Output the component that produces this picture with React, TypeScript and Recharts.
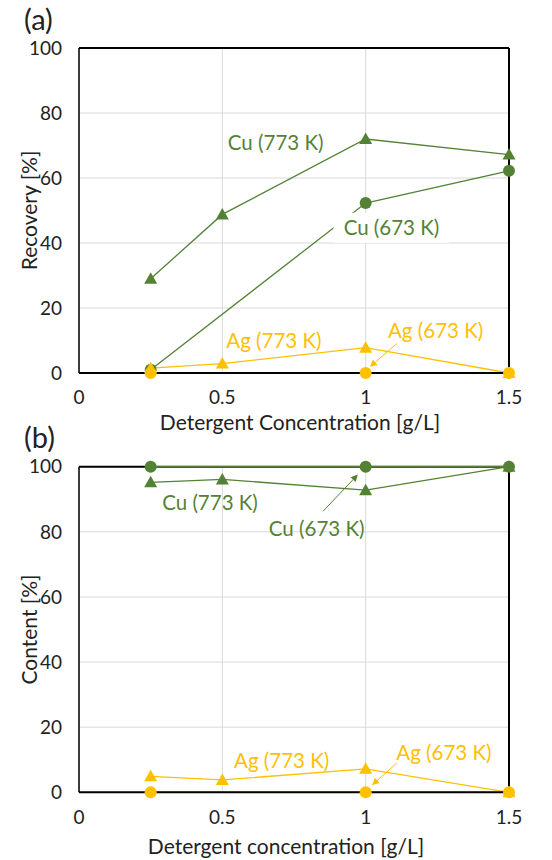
import React from "react";
import {
  LineChart,
  Line,
  XAxis,
  YAxis,
  CartesianGrid,
  ReferenceLine,
  ReferenceDot,
} from "recharts";

// ---------- data ----------
const concentrations = [0.25, 0.5, 1, 1.5];
const xTicks = [0, 0.5, 1, 1.5];
const yTicks = [0, 20, 40, 60, 80, 100];

const recoveryCu773 = [29, 48.8, 72, 67.2];
const recoveryCu673 = [1, null, 52.3, 62.2];
const recoveryAg773 = [1.5, 2.9, 7.8, 0];
const recoveryAg673 = [0, null, 0, 0];

const contentCu773 = [95.2, 96.1, 92.8, 100];
const contentCu673 = [100, null, 100, 100];
const contentAg773 = [4.9, 3.8, 7.2, 0];
const contentAg673 = [0, null, 0, 0];

const seriesNames = ["Cu (773 K)", "Cu (673 K)", "Ag (773 K)", "Ag (673 K)"];

const buildRows = (cu773: any[], cu673: any[], ag773: any[], ag673: any[]) =>
  concentrations.map((x, i) => ({
    x,
    cu773: cu773[i],
    cu673: cu673[i],
    ag773: ag773[i],
    ag673: ag673[i],
  }));

const recoveryData = buildRows(recoveryCu773, recoveryCu673, recoveryAg773, recoveryAg673);
const contentData = buildRows(contentCu773, contentCu673, contentAg773, contentAg673);

// ---------- styles ----------
const GREEN = "#548235";
const GOLD = "#FFC000";
const FONT = "Lato, 'Open Sans', sans-serif";
const TEXT = "#222";

const triangleDot = (color: string) => (props: any) => {
  const { cx, cy, index, value } = props;
  if (cx == null || cy == null || value == null || isNaN(cy))
    return <g key={`t-${index}`} />;
  return (
    <polygon
      key={`t-${index}`}
      points={`${cx},${cy - 6.5} ${cx + 6.5},${cy + 5} ${cx - 6.5},${cy + 5}`}
      fill={color}
    />
  );
};

const circleDot = (color: string) => (props: any) => {
  const { cx, cy, index, value } = props;
  if (cx == null || cy == null || value == null || isNaN(cy))
    return <g key={`c-${index}`} />;
  return <circle key={`c-${index}`} cx={cx} cy={cy} r={6} fill={color} />;
};

const annot = (text: string, color: string, bg = false) => (props: any) => {
  const vb = props.viewBox || {};
  const x = vb.x + (vb.width || 0) / 2;
  const y = vb.y + (vb.height || 0) / 2;
  return (
    <g>
      {bg && <rect x={x - 58} y={y - 14} width={116} height={30} fill="#fff" />}
      <text
        x={x}
        y={y}
        textAnchor="middle"
        dominantBaseline="central"
        fill={color}
        fontSize={20.5}
        fontFamily={FONT}
      >
        {text}
      </text>
    </g>
  );
};

const arrowShape = (color: string) => (props: any) => {
  const { x1, y1, x2, y2 } = props;
  if ([x1, y1, x2, y2].some((v) => v == null || isNaN(v))) return <g />;
  const ang = Math.atan2(y2 - y1, x2 - x1);
  const L = 7;
  const W = 3.5;
  const bx = x2 - L * Math.cos(ang);
  const by = y2 - L * Math.sin(ang);
  const px = -Math.sin(ang) * W;
  const py = Math.cos(ang) * W;
  return (
    <g>
      <line x1={x1} y1={y1} x2={bx} y2={by} stroke={color} strokeWidth={1} />
      <polygon
        points={`${x2},${y2} ${bx + px},${by + py} ${bx - px},${by - py}`}
        fill={color}
      />
    </g>
  );
};

const yTitle = (text: string) => (props: any) => {
  const vb = props.viewBox || {};
  const x = vb.x + 28;
  const y = vb.y + vb.height / 2;
  return (
    <text
      x={x}
      y={y}
      transform={`rotate(-90 ${x} ${y})`}
      textAnchor="middle"
      dominantBaseline="central"
      fill={TEXT}
      fontSize={21}
      fontFamily={FONT}
    >
      {text}
    </text>
  );
};

const xTitle = (text: string, dy: number, dx: number) => (props: any) => {
  const vb = props.viewBox || {};
  const x = vb.x + vb.width / 2 + dx;
  const y = vb.y + dy;
  return (
    <text
      x={x}
      y={y}
      textAnchor="middle"
      dominantBaseline="central"
      fill={TEXT}
      fontSize={21}
      fontFamily={FONT}
    >
      {text}
    </text>
  );
};

const tickStyle = { fill: TEXT, fontSize: 19, fontFamily: FONT };
const panelLabel: React.CSSProperties = {
  position: "absolute",
  left: 24,
  fontFamily: FONT,
  fontSize: 29,
  color: TEXT,
  lineHeight: 1,
};

export default function App() {
  return (
    <div style={{ position: "absolute", left: 0, top: 0, width: 552, height: 860, background: "#fff" }}>
      <div style={{ ...panelLabel, top: 4 }}>(a)</div>
      <div style={{ ...panelLabel, top: 422 }}>(b)</div>

      {/* ---------- (b) Content ---------- */}
      <div style={{ position: "absolute", left: 0, top: 430 }}>
        <LineChart width={552} height={430} data={contentData} margin={{ top: 36.7, right: 43, bottom: 0, left: 0 }}>
          <CartesianGrid stroke="#d9d9d9" strokeWidth={1} />
          <XAxis
            type="number"
            dataKey="x"
            domain={[0, 1.5]}
            ticks={xTicks}
            tickFormatter={(v: number) => String(v)}
            height={67.7}
            tickLine={false}
            tickSize={0}
            tickMargin={18}
            axisLine={{ stroke: "#000", strokeWidth: 2 }}
            tick={tickStyle}
            label={{ content: xTitle("Detergent concentration [g/L]", 53, -8) }}
          />
          <YAxis
            type="number"
            domain={[0, 100]}
            ticks={yTicks}
            width={79}
            tickLine={false}
            tickSize={0}
            tickMargin={17}
            axisLine={{ stroke: "#000", strokeWidth: 1.5 }}
            tick={tickStyle}
            label={{ content: yTitle("Content [%]") }}
          />
          <ReferenceLine y={100} stroke="#000" strokeWidth={2} />
          <ReferenceLine x={1.5} stroke="#000" strokeWidth={2} />
          <Line dataKey="cu773" stroke={GREEN} strokeWidth={1.3} isAnimationActive={false} connectNulls dot={triangleDot(GREEN)} activeDot={false} />
          <Line dataKey="cu673" stroke={GREEN} strokeWidth={1.5} isAnimationActive={false} connectNulls dot={circleDot(GREEN)} activeDot={false} />
          <Line dataKey="ag773" stroke={GOLD} strokeWidth={1.3} isAnimationActive={false} connectNulls dot={triangleDot(GOLD)} activeDot={false} />
          <Line dataKey="ag673" stroke={GOLD} strokeWidth={1.5} isAnimationActive={false} connectNulls dot={circleDot(GOLD)} activeDot={false} />
          <ReferenceDot x={0.457} y={89.2} r={0} label={annot(seriesNames[0], GREEN)} />
          <ReferenceDot x={0.829} y={81.1} r={0} label={annot(seriesNames[1], GREEN)} />
          <ReferenceDot x={0.707} y={9.9} r={0} label={annot(seriesNames[2], GOLD)} />
          <ReferenceDot x={1.273} y={12.5} r={0} label={annot(seriesNames[3], GOLD)} />
          <ReferenceLine
            segment={[{ x: 0.851, y: 86.3 }, { x: 0.973, y: 97.6 }]}
            stroke={GREEN}
            shape={arrowShape(GREEN)}
          />
          <ReferenceLine
            segment={[{ x: 1.109, y: 9.0 }, { x: 1.022, y: 2.2 }]}
            stroke={GOLD}
            shape={arrowShape(GOLD)}
          />
        </LineChart>
      </div>

      {/* ---------- (a) Recovery ---------- */}
      <div style={{ position: "absolute", left: 0, top: 0 }}>
        <LineChart width={552} height={445} data={recoveryData} margin={{ top: 48, right: 43, bottom: 15, left: 0 }}>
          <CartesianGrid stroke="#d9d9d9" strokeWidth={1} />
          <XAxis
            type="number"
            dataKey="x"
            domain={[0, 1.5]}
            ticks={xTicks}
            tickFormatter={(v: number) => String(v)}
            height={57}
            tickLine={false}
            tickSize={0}
            tickMargin={18}
            axisLine={{ stroke: "#000", strokeWidth: 2 }}
            tick={tickStyle}
            label={{ content: xTitle("Detergent Concentration [g/L]", 48, 6) }}
          />
          <YAxis
            type="number"
            domain={[0, 100]}
            ticks={yTicks}
            width={79}
            tickLine={false}
            tickSize={0}
            tickMargin={17}
            axisLine={{ stroke: "#000", strokeWidth: 1.5 }}
            tick={tickStyle}
            label={{ content: yTitle("Recovery [%]") }}
          />
          <ReferenceLine y={100} stroke="#000" strokeWidth={2} />
          <ReferenceLine x={1.5} stroke="#000" strokeWidth={2} />
          <ReferenceDot x={1.09} y={45} r={0} label={annot(seriesNames[1], GREEN, true)} />
          <Line dataKey="cu773" stroke={GREEN} strokeWidth={1.3} isAnimationActive={false} connectNulls dot={triangleDot(GREEN)} activeDot={false} />
          <Line dataKey="cu673" stroke={GREEN} strokeWidth={1.3} isAnimationActive={false} connectNulls dot={circleDot(GREEN)} activeDot={false} />
          <Line dataKey="ag773" stroke={GOLD} strokeWidth={1.3} isAnimationActive={false} connectNulls dot={triangleDot(GOLD)} activeDot={false} />
          <Line dataKey="ag673" stroke={GOLD} strokeWidth={1.5} isAnimationActive={false} connectNulls dot={circleDot(GOLD)} activeDot={false} />
          <ReferenceDot x={0.686} y={71.1} r={0} label={annot(seriesNames[0], GREEN)} />
          <ReferenceDot x={0.68} y={10.1} r={0} label={annot(seriesNames[2], GOLD)} />
          <ReferenceDot x={1.244} y={13.2} r={0} label={annot(seriesNames[3], GOLD)} />
          <ReferenceLine
            segment={[{ x: 1.109, y: 9.1 }, { x: 1.015, y: 1.9 }]}
            stroke={GOLD}
            shape={arrowShape(GOLD)}
          />
        </LineChart>
      </div>
    </div>
  );
}
